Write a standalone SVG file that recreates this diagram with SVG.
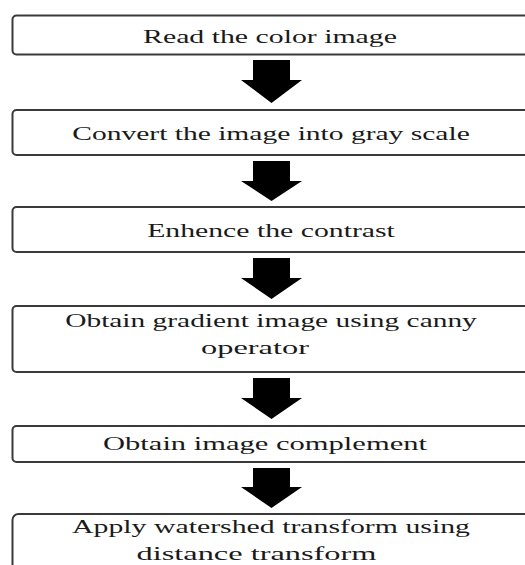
<svg xmlns="http://www.w3.org/2000/svg" width="525" height="565" viewBox="0 0 525 565">
<style>
.box{fill:#fff;stroke:#3a3a3a;stroke-width:2}
.t{font-family:"Liberation Serif","Times New Roman",serif;font-size:18px;fill:#1a1a1a;text-anchor:middle}
.arr{fill:#000}
</style>
<rect width="525" height="565" fill="#fff"/>
<g id="connectors">
<polygon class="arr" points="253,60 290,60 290,80 302,80 271.5,103 241,80 253,80"/>
<polygon class="arr" points="253,161 290,161 290,181 302,181 271.5,201 241,181 253,181"/>
<polygon class="arr" points="253,258 290,258 290,278 302,278 271.5,299 241,278 253,278"/>
<polygon class="arr" points="253,378 290,378 290,398 302,398 271.5,419 241,398 253,398"/>
<polygon class="arr" points="253,468 290,468 290,487 302,487 271.5,508 241,487 253,487"/>
</g>
<g id="n1">
<rect class="box" x="12.5" y="15.5" width="540" height="39" rx="4"/>
<text class="t" transform="translate(270,43) scale(1.655,1)">Read the color image</text>
</g>
<g id="n2">
<rect class="box" x="12.5" y="110" width="540" height="45" rx="4"/>
<text class="t" transform="translate(271,140) scale(1.641,1)">Convert the image into gray scale</text>
</g>
<g id="n3">
<rect class="box" x="12.5" y="207" width="540" height="45" rx="4"/>
<text class="t" transform="translate(271,236.5) scale(1.653,1)">Enhence the contrast</text>
</g>
<g id="n4">
<rect class="box" x="12.5" y="306" width="540" height="66" rx="4"/>
<text class="t" transform="translate(271,327) scale(1.635,1)">Obtain gradient image using canny</text>
<text class="t" transform="translate(255,354) scale(1.8,1)">operator</text>
</g>
<g id="n5">
<rect class="box" x="12.5" y="426" width="540" height="36" rx="4"/>
<text class="t" transform="translate(265,450) scale(1.697,1)">Obtain image complement</text>
</g>
<g id="n6">
<rect class="box" x="12.5" y="514" width="540" height="70" rx="6"/>
<text class="t" transform="translate(271,533) scale(1.655,1)">Apply watershed transform using</text>
<text class="t" transform="translate(256.5,560) scale(1.8,1)">distance transform</text>
</g>
</svg>
